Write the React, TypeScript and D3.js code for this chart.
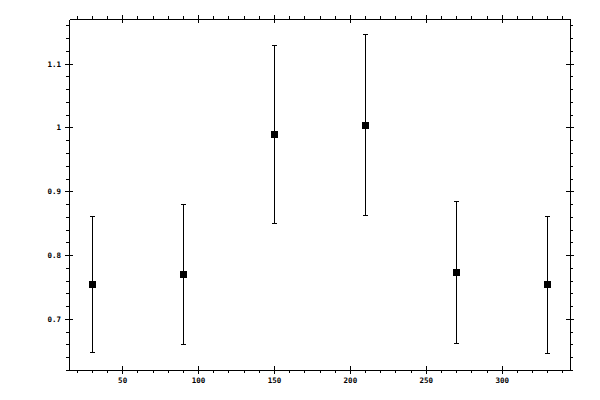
import React, { useRef, useEffect } from "react";
import * as d3 from "d3";

// values
const xValues = [30, 90, 150, 210, 270, 330];
const yValues = [0.755, 0.77, 0.99, 1.004, 0.773, 0.755];
const yUpper = [0.862, 0.88, 1.129, 1.146, 0.885, 0.862];
const yLower = [0.648, 0.66, 0.85, 0.863, 0.662, 0.646];

const xMajorTicks = [50, 100, 150, 200, 250, 300];
const yMajorTicks = [0.7, 0.8, 0.9, 1, 1.1];

const W = 600;
const H = 400;

const App: React.FC = () => {
  const svgRef = useRef<SVGSVGElement | null>(null);

  useEffect(() => {
    if (!svgRef.current) return;
    const svg = d3.select(svgRef.current);
    svg.selectAll("*").remove();

    const left = 69, right = 570, top = 19, bottom = 370;
    const x = d3.scaleLinear().domain([15, 345]).range([left, right]);
    const y = d3.scaleLinear().domain([0.62, 1.17]).range([bottom, top]);

    const xMinor = d3.range(20, 345, 10).filter((v) => v % 50 !== 0);
    const yMinor = d3
      .range(31, 59)
      .map((i) => +(i * 0.02).toFixed(2))
      .filter((v) => Math.round(v * 100) % 10 !== 0);

    const font = "DejaVu Sans Mono, monospace";

    const style = (g: d3.Selection<SVGGElement, unknown, null, undefined>) => {
      g.selectAll("line").attr("stroke", "#000").attr("shape-rendering", "crispEdges");
      g.selectAll("path").attr("stroke", "#000").attr("shape-rendering", "crispEdges");
      g.selectAll("text")
        .attr("fill", "#000")
        .style("font-family", font)
        .style("font-weight", "bold")
        .style("font-size", "7.5px");
    };

    // minor ticks (outside only)
    const minor = [
      { a: d3.axisBottom(x).tickValues(xMinor), t: `translate(0,${bottom})` },
      { a: d3.axisTop(x).tickValues(xMinor), t: `translate(0,${top})` },
      { a: d3.axisLeft(y).tickValues(yMinor), t: `translate(${left},0)` },
      { a: d3.axisRight(y).tickValues(yMinor), t: `translate(${right},0)` },
    ];
    minor.forEach(({ a, t }) => {
      const g = svg.append("g").attr("transform", t)
        .call(a.tickSize(3).tickSizeOuter(0).tickFormat(() => ""));
      g.select(".domain").remove();
      style(g);
    });

    // major ticks (crossing the frame)
    const gb = svg.append("g").attr("transform", `translate(0,${bottom})`)
      .call(d3.axisBottom(x).tickValues(xMajorTicks).tickSize(4).tickSizeOuter(0).tickPadding(4).tickFormat(d3.format("")));
    gb.selectAll(".tick line").attr("y1", -4);
    style(gb);

    const gt = svg.append("g").attr("transform", `translate(0,${top})`)
      .call(d3.axisTop(x).tickValues(xMajorTicks).tickSize(4).tickSizeOuter(0).tickFormat(() => ""));
    gt.selectAll(".tick line").attr("y1", 4);
    style(gt);

    const gl = svg.append("g").attr("transform", `translate(${left},0)`)
      .call(d3.axisLeft(y).tickValues(yMajorTicks).tickSize(4).tickSizeOuter(0).tickPadding(4).tickFormat(d3.format("")));
    gl.selectAll(".tick line").attr("x1", 4);
    style(gl);

    const gr = svg.append("g").attr("transform", `translate(${right},0)`)
      .call(d3.axisRight(y).tickValues(yMajorTicks).tickSize(4).tickSizeOuter(0).tickFormat(() => ""));
    gr.selectAll(".tick line").attr("x1", -4);
    style(gr);

    // error bars
    const data = xValues.map((xv, i) => ({ x: xv, y: yValues[i], hi: yUpper[i], lo: yLower[i] }));
    const eb = svg.append("g").attr("stroke", "#000").attr("shape-rendering", "crispEdges");
    eb.selectAll("line.bar").data(data).enter().append("line")
      .attr("x1", (d) => Math.round(x(d.x)) + 0.5)
      .attr("x2", (d) => Math.round(x(d.x)) + 0.5)
      .attr("y1", (d) => Math.round(y(d.hi)) + 0.5)
      .attr("y2", (d) => Math.round(y(d.lo)) + 0.5);
    ["hi", "lo"].forEach((k) => {
      eb.selectAll(`line.cap-${k}`).data(data).enter().append("line")
        .attr("x1", (d) => Math.round(x(d.x)) - 2)
        .attr("x2", (d) => Math.round(x(d.x)) + 3)
        .attr("y1", (d) => Math.round(y((d as any)[k])) + 0.5)
        .attr("y2", (d) => Math.round(y((d as any)[k])) + 0.5);
    });

    // square markers
    svg.append("g").selectAll("rect").data(data).enter().append("rect")
      .attr("x", (d) => Math.round(x(d.x)) - 3)
      .attr("y", (d) => Math.round(y(d.y)) - 3)
      .attr("width", 7)
      .attr("height", 7)
      .attr("fill", "#000")
      .attr("shape-rendering", "crispEdges");
  }, []);

  return (
    <div>
      <style>{"body{margin:0;background:#fff}"}</style>
      <svg ref={svgRef} width={W} height={H} style={{ display: "block" }} />
    </div>
  );
};

export default App;
